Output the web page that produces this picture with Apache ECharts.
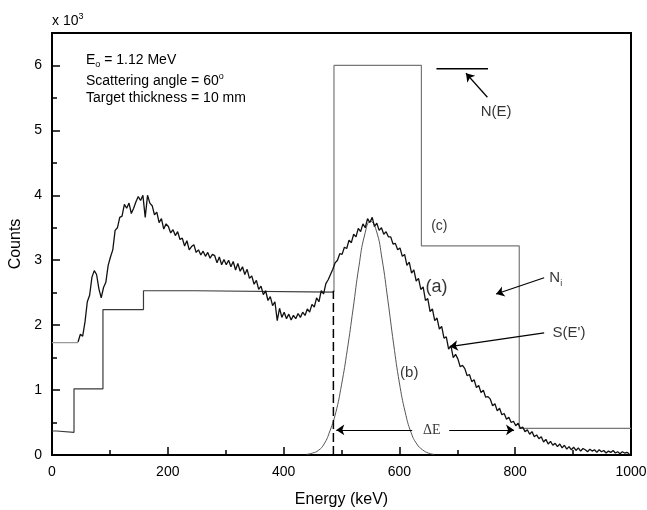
<!DOCTYPE html>
<html>
<head>
<meta charset="utf-8">
<script src="https://cdn.jsdelivr.net/npm/echarts@6/dist/echarts.min.js"></script>
<style>
  html, body { margin: 0; padding: 0; background: #fff; }
  #chart { width: 647px; height: 510px; }
</style>
</head>
<body>
<div id="chart"></div>
<script>
// Measured pulse-height spectrum S(E'), counts per channel (x10^3)
const SPEC_START_KEV = 45;
const SPEC_STEP_KEV = 4;
const spectrumCounts = [
  1.74, 1.86, 1.83, 2.05, 2.36, 2.46, 2.74, 2.84, 2.78, 2.56, 2.42, 2.58, 2.66, 2.92,
  3.05, 3.16, 3.46, 3.50, 3.66, 3.68, 3.86, 3.80, 3.88, 3.72, 3.80, 3.90, 3.98, 3.92, 4.00,
  3.66, 4.00, 3.88, 3.84, 3.70, 3.74, 3.58, 3.64, 3.48, 3.56,
  3.52, 3.42, 3.47, 3.38, 3.44, 3.32, 3.34, 3.22, 3.30, 3.16, 3.21, 3.24, 3.12, 3.16, 3.08,
  3.14, 3.06, 3.12, 3.03, 3.09, 3.07, 2.96, 3.05, 2.93, 3.01,
  2.93, 3.00, 2.90, 2.98, 2.85, 2.95, 2.83, 2.90, 2.78, 2.86, 2.72, 2.76, 2.63, 2.69, 2.55,
  2.60, 2.47, 2.53, 2.38, 2.44, 2.30, 2.36, 2.07, 2.26, 2.12,
  2.20, 2.10, 2.17, 2.08, 2.15, 2.10, 2.18, 2.12, 2.20, 2.15, 2.25, 2.20, 2.32, 2.28, 2.42,
  2.36, 2.53, 2.48, 2.64, 2.70, 2.78, 2.86, 2.96, 3.00, 3.10,
  3.09, 3.20, 3.18, 3.31, 3.27, 3.40, 3.36, 3.49, 3.44, 3.56, 3.50, 3.64, 3.58, 3.66, 3.52,
  3.57, 3.46, 3.50, 3.40, 3.44, 3.36, 3.36, 3.25, 3.26, 3.16,
  3.19, 3.06, 3.09, 2.92, 2.97, 2.80, 2.85, 2.68, 2.72, 2.55, 2.59, 2.38, 2.41, 2.21, 2.25,
  2.07, 2.11, 1.94, 1.98, 1.80, 1.82, 1.63, 1.68, 1.50, 1.55,
  1.48, 1.36, 1.38, 1.33, 1.22, 1.24, 1.13, 1.16, 1.04, 1.07, 0.96, 1.00, 0.89, 0.90, 0.86,
  0.76, 0.79, 0.68, 0.72, 0.62, 0.64, 0.55, 0.58, 0.50, 0.52,
  0.45, 0.49, 0.41, 0.43, 0.36, 0.39, 0.32, 0.36, 0.28, 0.31, 0.25, 0.28, 0.20, 0.24, 0.17,
  0.21, 0.15, 0.18, 0.13, 0.17, 0.11, 0.15, 0.09, 0.13, 0.08,
  0.12, 0.07, 0.11, 0.06, 0.10, 0.08, 0.05, 0.09, 0.06, 0.08, 0.04, 0.08, 0.05, 0.07, 0.03,
  0.06, 0.04, 0.07, 0.03, 0.05, 0.02, 0.05, 0.03, 0.04, 0.02
];

// Flat lead-in below the threshold channel
const leadEnergy = [0, 45];
const leadCounts = [1.73, 1.73];

// Histogram N_i (c): bin edges in keV and bin contents (x10^3)
const binEdges = [0, 8, 38, 88, 158, 248, 487, 638, 807, 1000];
const binCounts = [0.37, 0.35, 1.02, 2.24, 2.53, 2.51, 6.00, 3.22, 0.41];
// bins from this index on belong to the analysis window (drawn lighter)
const WINDOW_BIN = 6;

// Detector response (b)
const responseEnergy = [440, 450, 460, 470, 480, 490, 500, 510, 520, 530, 540, 550,
  560, 570, 580, 590, 600, 610, 620, 630, 640, 650, 660];
const responseCounts = [0.01, 0.03, 0.07, 0.17, 0.37, 0.65, 1.08, 1.62, 2.25, 2.90, 3.39, 3.60,
  3.46, 3.02, 2.39, 1.71, 1.11, 0.66, 0.35, 0.17, 0.08, 0.03, 0.01];

// Window edge (dashed) and N(E) key segment
const edgeEnergy = [486, 486];
const edgeCounts = [0, 2.53];
const keyEnergy = [664, 753];
const keyCounts = [5.95, 5.95];

// ---- build series data ----
const spectrumData = spectrumCounts.map((c, i) => [SPEC_START_KEV + SPEC_STEP_KEV * i, c]);
const leadData = leadEnergy.map((e, i) => [e, leadCounts[i]]);
const histLow = [];
const histWindow = [[binEdges[WINDOW_BIN], binCounts[WINDOW_BIN - 1]]];
binCounts.forEach((v, i) => {
  const target = i < WINDOW_BIN ? histLow : histWindow;
  target.push([binEdges[i], v]);
  target.push([binEdges[i + 1], v]);
});
const responseData = responseEnergy.map((e, i) => [e, responseCounts[i]]);
const edgeData = edgeEnergy.map((e, i) => [e, edgeCounts[i]]);
const keyData = keyEnergy.map((e, i) => [e, keyCounts[i]]);

const FONT = '"Liberation Sans", Arial, Helvetica, sans-serif';

// annotation arrows (data space)
const arrows = [
  [[752, 5.51], [715, 5.88]],
  [[850, 2.73], [767, 2.48]],
  [[850, 1.88], [687, 1.67]],
  [[622, 0.386], [491, 0.386]],
  [[686, 0.386], [798, 0.386]]
];

const notes = [
  { value: [669, 3.52], text: '(c)', size: 14 },
  { value: [664, 2.59], text: '(a)', size: 18 },
  { value: [617, 1.27], text: '(b)', size: 15 },
  { value: [767, 5.29], text: 'N(E)', size: 15 },
  { value: [870, 2.73], text: '{m|N}{s|i}', size: 15 },
  { value: [893, 1.88], text: "S(E')", size: 15 },
  { value: [656, 0.386], text: '{d|ΔE}', size: 14 }
];

const noteRich = {
  m: { fontSize: 15, fontFamily: FONT, color: '#000', lineHeight: 20, verticalAlign: 'middle' },
  s: { fontSize: 9, fontFamily: FONT, color: '#000', lineHeight: 10, verticalAlign: 'bottom' },
  d: { fontSize: 14, fontFamily: '"Liberation Serif", "DejaVu Serif", serif', color: '#000' }
};

const headRich = {
  t: { fontSize: 14, fontFamily: FONT, color: '#000', lineHeight: 18, verticalAlign: 'middle' },
  sub: { fontSize: 9, fontFamily: FONT, color: '#000', lineHeight: 9, verticalAlign: 'bottom' },
  sup: { fontSize: 9, fontFamily: FONT, color: '#000', lineHeight: 9, verticalAlign: 'top' }
};

const chart = echarts.init(document.getElementById('chart'), null, { renderer: 'canvas' });

chart.setOption({
  animation: false,
  backgroundColor: '#fff',
  grid: {
    left: 52, right: 16, top: 33, bottom: 55,
    outerBoundsMode: 'none', containLabel: false,
    show: true, borderColor: '#000', borderWidth: 2, backgroundColor: 'transparent'
  },
  xAxis: {
    type: 'value', min: 0, max: 1000, interval: 200,
    name: 'Energy (keV)', nameLocation: 'middle', nameGap: 37,
    nameTextStyle: { fontSize: 16, color: '#000', fontFamily: FONT },
    axisLine: { lineStyle: { color: '#000', width: 2 } },
    axisTick: { inside: true, length: 8, lineStyle: { color: '#000', width: 1.5 } },
    minorTick: { show: true, splitNumber: 2, length: 5, lineStyle: { color: '#000', width: 1.5 } },
    splitLine: { show: false },
    minorSplitLine: { show: false },
    axisLabel: { color: '#000', fontSize: 14, margin: 10, fontFamily: FONT, formatter: v => String(v) }
  },
  yAxis: {
    type: 'value', min: 0, max: 6.5, interval: 1,
    name: 'Counts', nameLocation: 'middle', nameGap: 23,
    nameTextStyle: { fontSize: 16, color: '#000', fontFamily: FONT },
    axisLine: { show: true, lineStyle: { color: '#000', width: 2 } },
    axisTick: { inside: true, length: 8, lineStyle: { color: '#000', width: 1.5 } },
    minorTick: { show: true, splitNumber: 2, length: 5, lineStyle: { color: '#000', width: 1.5 } },
    splitLine: { show: false },
    minorSplitLine: { show: false },
    axisLabel: { color: '#000', fontSize: 14, margin: 10, fontFamily: FONT, showMaxLabel: false }
  },
  graphic: [
    { type: 'text', left: 52, top: 12, style: { text: '{t|x 10}{sup|3}', rich: headRich } },
    { type: 'text', left: 86, top: 53, style: { text: '{t|E}{sub|o}{t| = 1.12 MeV}', rich: headRich } },
    { type: 'text', left: 86, top: 72, style: { text: '{t|Scattering angle = 60}{sup|o}', rich: headRich } },
    { type: 'text', left: 86, top: 91, style: { text: '{t|Target thickness = 10 mm}', rich: headRich } }
  ],
  series: [
    {
      name: 'N_i low', type: 'line', data: histLow, showSymbol: false, symbol: 'none',
      lineStyle: { color: '#3a3a3a', width: 1.2 }, z: 2
    },
    {
      name: 'N_i window', type: 'line', data: histWindow, showSymbol: false, symbol: 'none',
      lineStyle: { color: '#777', width: 1.2 }, z: 2
    },
    {
      name: 'lead', type: 'line', data: leadData, showSymbol: false, symbol: 'none',
      lineStyle: { color: '#999', width: 1.2 }, z: 2
    },
    {
      name: "S(E')", type: 'line', data: spectrumData, showSymbol: false, symbol: 'none',
      sampling: null, lineStyle: { color: '#111', width: 1.3 }, z: 4
    },
    {
      name: 'response', type: 'line', data: responseData, showSymbol: false, symbol: 'none',
      smooth: true, lineStyle: { color: '#555', width: 1 }, z: 3
    },
    {
      name: 'edge', type: 'line', data: edgeData, showSymbol: false, symbol: 'none',
      lineStyle: { color: '#000', width: 1.5, type: [9, 4] }, z: 3
    },
    {
      name: 'N(E) key', type: 'line', data: keyData, showSymbol: false, symbol: 'none',
      lineStyle: { color: '#000', width: 1.5 }, z: 3
    },
    {
      name: 'arrows', type: 'lines', coordinateSystem: 'cartesian2d', polyline: false,
      symbol: ['none', 'arrow'], symbolSize: 8,
      lineStyle: { color: '#000', width: 1.2, curveness: 0, opacity: 1 },
      data: arrows.map(c => ({ coords: c })), z: 5
    },
    {
      name: 'notes', type: 'scatter', symbolSize: 0, clip: false, silent: true, z: 6,
      itemStyle: { color: '#000' },
      data: notes.map(n => ({
        value: n.value,
        label: {
          show: true, position: 'inside', formatter: n.text, color: '#000',
          textBorderWidth: 0, textBorderColor: 'transparent',
          fontSize: n.size, fontFamily: FONT, rich: noteRich,
          backgroundColor: n.text.indexOf('ΔE') >= 0 ? '#fff' : 'transparent',
          padding: [0, 2]
        }
      }))
    }
  ]
});
</script>
</body>
</html>
